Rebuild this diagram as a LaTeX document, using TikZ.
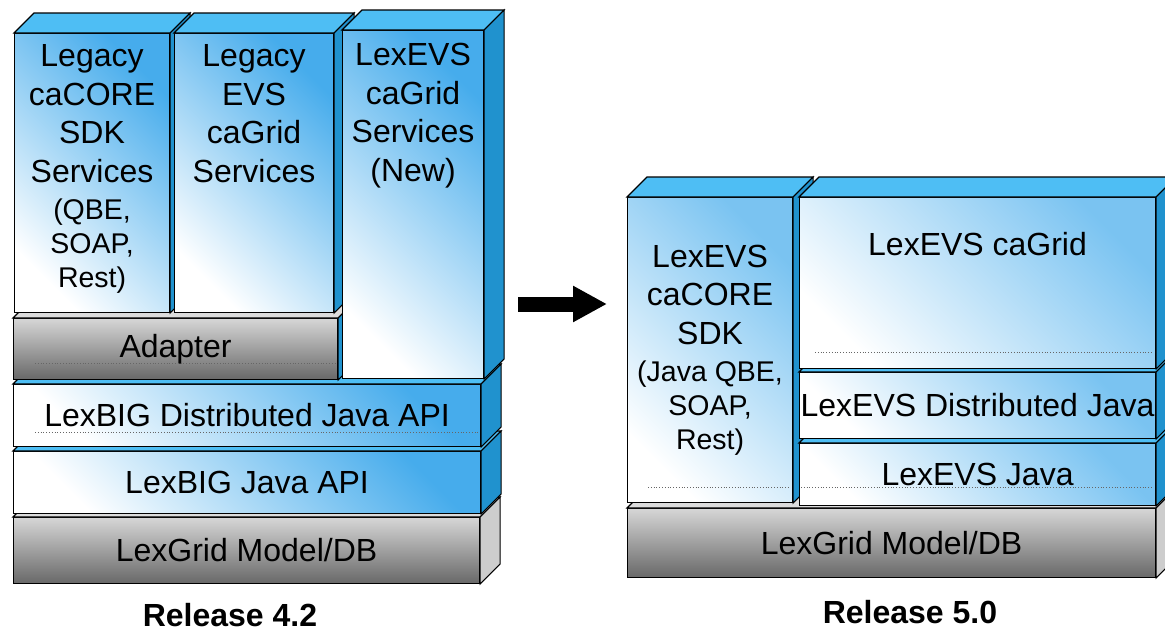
\documentclass[tikz,border=0pt]{standalone}
\usepackage{fontspec}
\setmainfont{Liberation Sans}
\usetikzlibrary{positioning,arrows.meta}

\definecolor{frontblue}{RGB}{70,172,236}
\definecolor{topblue}{RGB}{78,190,244}
\definecolor{sideblue}{RGB}{32,146,206}
\definecolor{greylight}{RGB}{214,214,214}
\definecolor{greydark}{RGB}{104,104,104}
\definecolor{greyedge}{RGB}{205,205,205}

\newcommand\bigtext{\fontsize{32}{38.5}\selectfont}
\newcommand\smalltext{\fontsize{28.5}{34}\selectfont}

% top and right face of a block, from the anchors of its front node
\newcommand\boxfaces[3]{%
  \filldraw[#2] (#1.north west) -- ++(20,-20) -- ([shift={(20,-20)}]#1.north east) -- (#1.north east) -- cycle;
  \filldraw[#3] (#1.north east) -- ([shift={(20,-20)}]#1.north east) -- ([shift={(20,-20)}]#1.south east) -- (#1.south east) -- cycle;}

\begin{document}
\begin{tikzpicture}[x=1pt, y=-1pt, line width=1.1pt,
	front/.style = {draw, anchor=north west, inner sep=0pt, font=\bigtext, align=center,
		top color=frontblue, bottom color=white, shading angle=-45},
	pale/.style = {front, top color=frontblue!72, bottom color=white, shading angle=-45},
	greyfront/.style = {draw, anchor=north west, inner sep=0pt, font=\bigtext,
		top color=greylight, bottom color=greydark},
	topface/.style = {fill=topblue, draw=black},
	sideface/.style = {fill=sideblue, draw=black},
	greytop/.style = {fill=greylight!85, draw=black},
	greyside/.style = {fill=greyedge, draw=black},
	txt/.style = {inner sep=0pt, align=center, font=\bigtext},
	dotline/.style = {dotted, line width=0.8pt, black!60},
	release/.style = {font=\fontsize{32}{38}\selectfont\bfseries}]
	\useasboundingbox (0,0) rectangle (1165,632);
	\clip (0,0) rectangle (1165,632);

	% Release 4.2
	\node[greyfront, minimum width=466pt, minimum height=66pt] (lgbase) at (13,517) {LexGrid Model/DB};
	\boxfaces{lgbase}{greytop}{greyside}
	\node[front, minimum width=467pt, minimum height=62pt] (lbjava) at (13,451) {LexBIG Java API};
	\boxfaces{lbjava}{topface}{sideface}
	\node[front, minimum width=467pt, minimum height=62pt] (lbdist) at (13,384) {LexBIG Distributed Java API};
	\boxfaces{lbdist}{topface}{sideface}
	\draw[dotline] (35,432) -- (478,432);
	\node[greyfront, minimum width=324pt, minimum height=61pt] (adapter) at (13,318) {Adapter};
	\boxfaces{adapter}{greytop}{sideface}
	\draw[dotline] (35,363) -- (335,363);
	\node[front, minimum width=155pt, minimum height=279pt] (legsdk) at (14,33) {};
	\boxfaces{legsdk}{topface}{sideface}
	\node[front, minimum width=159pt, minimum height=279pt] (legevs) at (174,33) {};
	\boxfaces{legevs}{topface}{sideface}
	\node[front, minimum width=141pt, minimum height=348pt] (newgrid) at (342,30) {};
	\boxfaces{newgrid}{topface}{sideface}
	\node[txt, below=11pt of legsdk.north] (legsdktxt) {Legacy\\caCORE\\SDK\\Services\\[-1.5pt]
		{\smalltext (QBE,}\\[-4.5pt]{\smalltext SOAP,}\\[-4.5pt]{\smalltext Rest)}};
	\node[txt, below=11pt of legevs.north] (legevstxt) {Legacy\\EVS\\caGrid\\Services};
	\node[txt, below=13pt of newgrid.north] (newgridtxt) {LexEVS\\caGrid\\Services\\(New)};
	\node[release] (rel42) at (230,615) {Release 4.2};

	\coordinate (arrowtail) at (518,304);
	\coordinate (arrowtip) at (607,304);
	\draw[line width=15pt, -{Triangle[length=34pt, width=34pt]}] (arrowtail) -- (arrowtip);

	% Release 5.0
	\node[greyfront, minimum width=528pt, minimum height=69pt] (evsbase) at (627,508) {LexGrid Model/DB};
	\boxfaces{evsbase}{greytop}{greyside}
	\node[pale, minimum width=165pt, minimum height=305pt] (evssdk) at (627,197)
		{LexEVS\\caCORE\\SDK\\[-1.5pt]{\smalltext (Java QBE,}\\[-4.5pt]{\smalltext SOAP,}\\[-4.5pt]{\smalltext Rest)}};
	\boxfaces{evssdk}{topface}{sideface}
	\node[pale, minimum width=356pt, minimum height=62pt] (evsjava) at (799,443) {LexEVS Java};
	\boxfaces{evsjava}{topface}{sideface}
	\draw[dotline] (648,487) -- (790,487);
	\draw[dotline] (801,487) -- (1153,487);
	\node[pale, minimum width=356pt, minimum height=66pt] (evsdist) at (799,372) {LexEVS Distributed Java};
	\boxfaces{evsdist}{topface}{sideface}
	\node[pale, minimum width=356pt, minimum height=171pt] (evsgrid) at (799,197) {};
	\boxfaces{evsgrid}{topface}{sideface}
	\draw[dotline] (815,352) -- (1153,352);
	\node[txt, below=35pt of evsgrid.north] (evsgridtxt) {LexEVS caGrid};
	\node[release] (rel50) at (910,612) {Release 5.0};
\end{tikzpicture}
\end{document}
